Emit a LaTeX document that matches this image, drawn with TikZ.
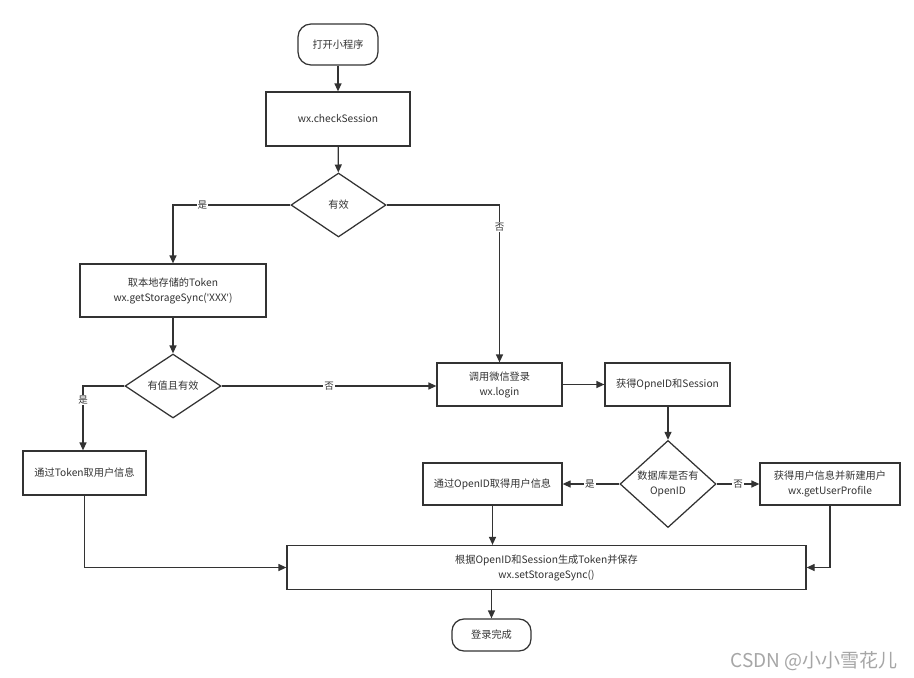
\documentclass[tikz,border=0pt]{standalone}
\usepackage{fontspec}
\setmainfont{Noto Sans CJK SC}
\newfontfamily\latinq{Noto Sans}
\usetikzlibrary{arrows.meta,shapes.geometric}
\definecolor{linec}{HTML}{333333}
\definecolor{textc}{HTML}{333333}
\newcommand{\sq}{{\latinq\char"0027\relax}}
\begin{document}
\begin{tikzpicture}[x=1pt,y=-1pt,
  every node/.style={text=textc,font=\fontsize{10.2pt}{15pt}\selectfont,align=center,inner sep=0pt},
  proc/.style={draw=linec,line width=1.25pt,fill=white,rectangle},
  term/.style={draw=linec,line width=1.25pt,fill=white,rectangle,rounded corners=13pt},
  dec/.style={draw=linec,line width=1.25pt,fill=white,diamond},
  conn/.style={draw=linec,line width=1.25pt,-{Triangle[length=8pt,width=7pt]}},
  lbl/.style={fill=white,font=\fontsize{9.5pt}{11pt}\selectfont,inner sep=1pt}]
\useasboundingbox (0,0) rectangle (914,678);
\fill[white] (0,0) rectangle (914,678);

\node[term,minimum width=80pt,minimum height=41pt] (start) at (338,44.5) {打开小程序};
\node[proc,minimum width=144pt,minimum height=54pt] (check) at (338,119) {wx.checkSession};
\node[dec,minimum width=95pt,minimum height=64pt] (valid) at (338.5,205) {有效};
\node[proc,minimum width=186pt,minimum height=53pt] (storage) at (173,290.5) {取本地存储的Token\\wx.getStorageSync(\sq XXX\sq)};
\node[dec,minimum width=96pt,minimum height=64pt] (hasval) at (173,386) {有值且有效};
\node[proc,minimum width=123pt,minimum height=44pt] (tokenuser) at (84.5,473) {通过Token取用户信息};
\node[proc,minimum width=125pt,minimum height=43pt] (login) at (499.5,384.5) {调用微信登录\\wx.login};
\node[proc,minimum width=125pt,minimum height=43pt] (getid) at (667.5,384.5) {获得OpneID和Session};
\node[dec,minimum width=96pt,minimum height=64pt] (db) at (668,484) {数据库是否有\\OpenID};
\node[proc,minimum width=139pt,minimum height=42pt] (openuser) at (492.5,484) {通过OpenID取得用户信息};
\node[proc,minimum width=140pt,minimum height=42pt] (newuser) at (830,484) {获得用户信息并新建用户\\wx.getUserProfile};
\node[proc,minimum width=519pt,minimum height=44pt] (save) at (546.5,567.5) {根据OpenID和Session生成Token并保存\\wx.setStorageSync()};
\node[term,rounded corners=12pt,minimum width=79pt,minimum height=32pt] (end) at (491.5,635) {登录完成};

\node[text=gray!70,font=\fontsize{19pt}{21pt}\selectfont,anchor=east] (wm) at (898,661) {CSDN @小小雪花儿};

\draw[conn] (start) -- (check);
\draw[conn] (check) -- (valid);
\draw[conn] (valid.west) -| node[lbl,pos=0.375]{是} (storage.north);
\draw[conn] (valid.east) -| node[lbl,pos=0.57]{否} (login.north);
\draw[conn] (storage) -- (hasval);
\draw[conn] (hasval.west) -| node[lbl,pos=0.61]{是} ([xshift=-1.5pt]tokenuser.north);
\draw[conn] (hasval.east) -- node[lbl,pos=0.5]{否} (hasval.east -| login.west);
\draw[conn] (login) -- (getid);
\draw[conn] (getid.south -| db.north) -- (db.north);
\draw[conn] (db.west) -- node[lbl,pos=0.52]{是} (openuser.east);
\draw[conn] (db.east) -- node[lbl,pos=0.5]{否} (newuser.west);
\draw[conn] (openuser.south) -- (openuser.south |- save.north);
\draw[conn] (tokenuser.south) |- (save.west);
\draw[conn] (newuser.south) |- (save.east);
\draw[conn] (end.north |- save.south) -- (end.north);
\end{tikzpicture}
\end{document}
